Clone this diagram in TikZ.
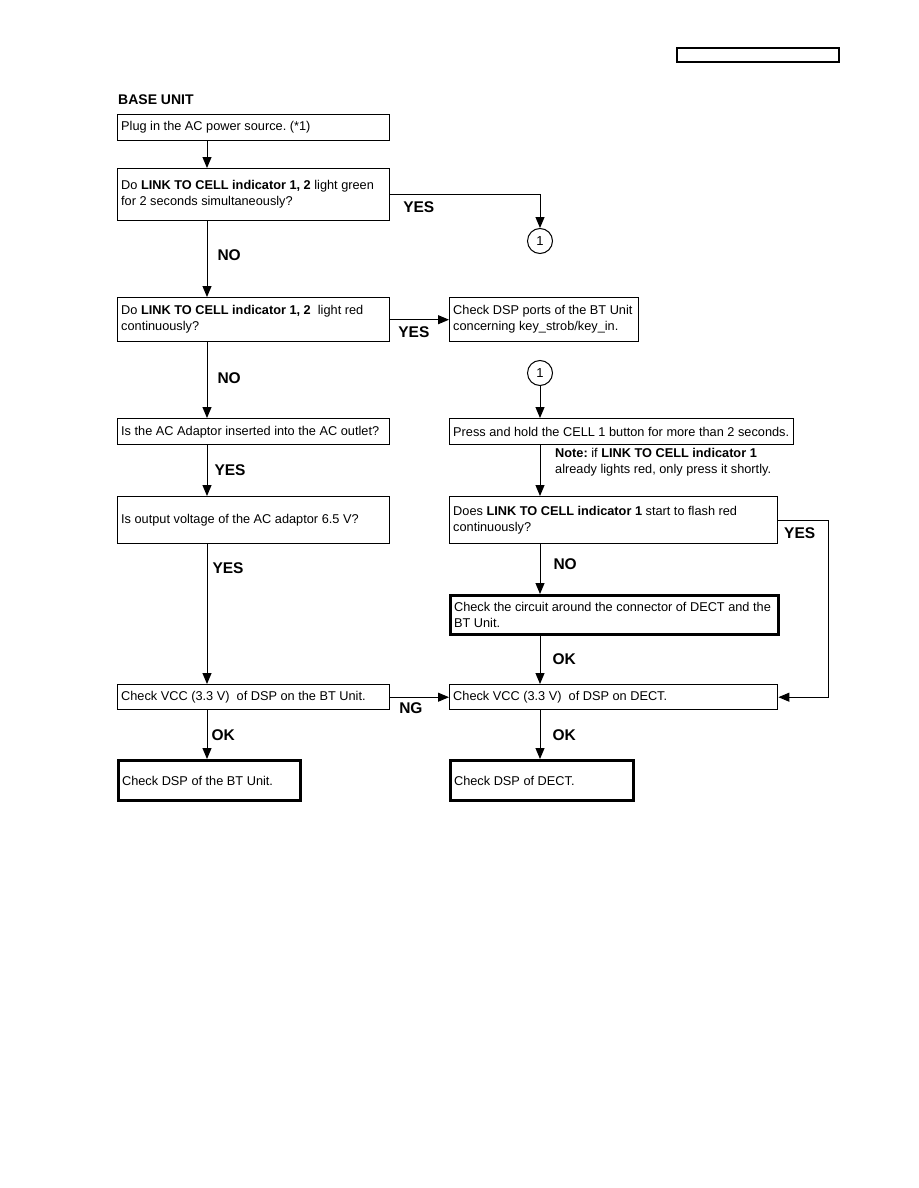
\documentclass[tikz,border=0pt]{standalone}
\usepackage{fontspec}
\setmainfont{Liberation Sans}
\usetikzlibrary{arrows.meta}
\frenchspacing

\begin{document}
\begin{tikzpicture}[x=1pt, y=-1pt,
  box/.style={draw, line width=1.4pt, align=flush left, anchor=north west, inner xsep=3.5pt, inner ysep=0pt, font=\fontsize{12.75}{16}\selectfont},
  endbox/.style={box, line width=3.2pt},
  flow/.style={line width=1pt, -{Triangle[length=11pt, width=9pt]}},
  lbl/.style={font=\fontsize{15.5}{18}\selectfont\bfseries, inner sep=0pt},
  conn/.style={draw, circle, line width=1pt, minimum size=25pt, inner sep=0pt, font=\fontsize{13}{15}\selectfont}]
\useasboundingbox (0,0) rectangle (918,1188);
\draw[line width=1.3pt] (677,48) rectangle (839,62);
\node[anchor=base west, inner sep=0pt, font=\fontsize{14}{16}\selectfont\bfseries] (title) at (118,105) {BASE UNIT};
\coordinate (xl) at (207,0);
\coordinate (xr) at (540,0);
\coordinate (xy) at (828,0);
\node[box, text width=265pt, minimum height=26pt] (plug) at (117,114) {Plug in the AC power source. (*1)};
\node[box, text width=265pt, minimum height=52pt] (green) at (117,168) {Do \textbf{LINK TO CELL indicator 1, 2} light green\\for 2 seconds simultaneously?};
\node[box, text width=265pt, minimum height=44pt] (red) at (117,297) {Do \textbf{LINK TO CELL indicator 1, 2}\ \ light red\\continuously?};
\node[box, text width=182pt, minimum height=44pt] (ports) at (449,297) {Check DSP ports of the BT Unit\\concerning key\_strob/key\_in.};
\node[box, text width=265pt, minimum height=26pt] (adaptor) at (117,418) {Is the AC Adaptor inserted into the AC outlet?};
\node[box, text width=265pt, minimum height=47pt] (voltage) at (117,496) {Is output voltage of the AC adaptor 6.5 V?};
\node[box, text width=265pt, minimum height=25pt] (vccbt) at (117,684) {Check VCC (3.3 V)\ \ of DSP on the BT Unit.};
\node[endbox, text width=175pt, minimum height=40pt] (dspbt) at (117,759) {Check DSP of the BT Unit.};
\node[conn] (circA) at (540,241) {1};
\node[conn] (circB) at (540,373) {1};
\node[box, text width=337pt, minimum height=26pt] (press) at (449,418) {Press and hold the CELL 1 button for more than 2 seconds.};
\node[anchor=west, inner sep=0pt, align=flush left, font=\fontsize{12.75}{16}\selectfont] (note) at (555,462) {\textbf{Note:} if \textbf{LINK TO CELL indicator 1}\\already lights red, only press it shortly.};
\node[box, text width=321pt, minimum height=47pt] (flash) at (449,496) {Does \textbf{LINK TO CELL indicator 1} start to flash red\\continuously?};
\node[endbox, text width=321pt, minimum height=39pt] (circuit) at (449,594) {Check the circuit around the connector of DECT and the\\BT Unit.};
\node[box, text width=321pt, minimum height=25pt] (vccdect) at (449,684) {Check VCC (3.3 V)\ \ of DSP on DECT.};
\node[endbox, text width=176pt, minimum height=40pt] (dspdect) at (449,759) {Check DSP of DECT.};
\draw[flow] (plug.south -| xl) -- (green.north -| xl);
\draw[flow] (green.east) -- node[lbl, below=6pt, pos=0.19]{YES} (green.east -| xr) -- (circA.north);
\draw[flow] (green.south -| xl) -- node[lbl, right=10pt, pos=0.44]{NO} (red.north -| xl);
\draw[flow] (red.east) -- node[lbl, below=6pt, pos=0.4]{YES} (ports.west);
\draw[flow] (red.south -| xl) -- node[lbl, right=10pt, pos=0.47]{NO} (adaptor.north -| xl);
\draw[flow] (adaptor.south -| xl) -- node[lbl, right=7pt, pos=0.48]{YES} (voltage.north -| xl);
\draw[flow] (voltage.south -| xl) -- node[lbl, right=5pt, pos=0.17]{YES} (vccbt.north -| xl);
\draw[flow] (vccbt.south -| xl) -- node[lbl, right=4pt, pos=0.5]{OK} (dspbt.north -| xl);
\draw[flow] (vccbt.east) -- node[lbl, below=5pt, pos=0.35]{NG} (vccdect.west);
\draw[flow] (circB.south) -- (press.north -| xr);
\draw[flow] (press.south -| xr) -- (flash.north -| xr);
\draw[flow] (flash.east) -- node[lbl, below=7pt, pos=0.43]{YES} (flash.east -| xy) |- (vccdect.east);
\draw[flow] (flash.south -| xr) -- node[lbl, right=13pt, pos=0.39]{NO} (circuit.north -| xr);
\draw[flow] (circuit.south -| xr) -- node[lbl, right=12pt, pos=0.47]{OK} (vccdect.north -| xr);
\draw[flow] (vccdect.south -| xr) -- node[lbl, right=12pt, pos=0.5]{OK} (dspdect.north -| xr);
\end{tikzpicture}
\end{document}
